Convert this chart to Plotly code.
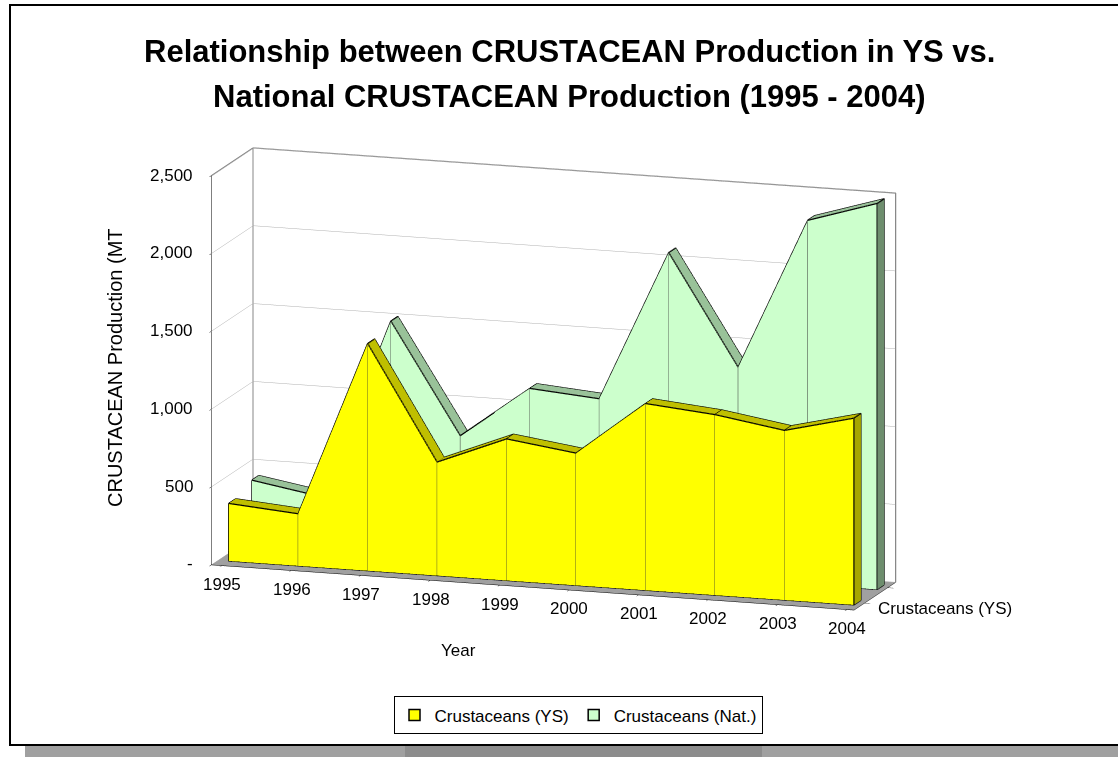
import math
import plotly.graph_objects as go

# ---------------- data ----------------
years = [1995, 1996, 1997, 1998, 1999, 2000, 2001, 2002, 2003, 2004]
ys_values = [370, 335, 1460, 730, 910, 850, 1200, 1160, 1090, 1200]
nat_values = [420, 345, 1505, 800, 1135, 1100, 2070, 1365, 2340, 2480]
series_names = ["Crustaceans (YS)", "Crustaceans (Nat.)"]
series_positions = [0, 1]
value_ticks = [0, 500, 1000, 1500, 2000, 2500]
value_tick_labels = ["-", "500", "1,000", "1,500", "2,000", "2,500"]
year_labels = [str(y) for y in years]

FONT = "Arial, Liberation Sans, sans-serif"
HALF = 0.15
XR = [1994.85, 2004.1]
YR = [-0.45, 1.35]
ZR = [0, 2500]
EPS = 0.02


def slab(xs, vs, yc, half, front, top, side, bottom):
    y0, y1 = yc - half, yc + half
    X, Y, Z = [], [], []
    for x, v in zip(xs, vs):
        X += [x, x, x, x]
        Y += [y0, y0, y1, y1]
        Z += [0, v, 0, v]
    I, J, K, C = [], [], [], []

    def tri(a, b, c, col):
        I.append(a); J.append(b); K.append(c); C.append(col)

    n = len(xs)
    for i in range(n - 1):
        fb, ft, bb, bt = 4 * i, 4 * i + 1, 4 * i + 2, 4 * i + 3
        fb2, ft2, bb2, bt2 = fb + 4, ft + 4, bb + 4, bt + 4
        tri(fb, ft, ft2, front); tri(fb, ft2, fb2, front)
        tri(bb, bt, bt2, front); tri(bb, bt2, bb2, front)
        tri(ft, ft2, bt2, top); tri(ft, bt2, bt, top)
        tri(fb, fb2, bb2, bottom); tri(fb, bb2, bb, bottom)
    for i in (0, n - 1):
        fb, ft, bb, bt = 4 * i, 4 * i + 1, 4 * i + 2, 4 * i + 3
        tri(fb, ft, bt, side); tri(fb, bt, bb, side)
    mesh = go.Mesh3d(x=X, y=Y, z=Z, i=I, j=J, k=K, facecolor=C,
                     flatshading=True,
                     lighting=dict(ambient=1, diffuse=0, specular=0,
                                   roughness=1, fresnel=0),
                     hoverinfo="skip", showlegend=False)

    ex, ey, ez = [], [], []

    def seg(pts):
        for p in pts:
            ex.append(p[0]); ey.append(p[1]); ez.append(p[2])
        ex.append(None); ey.append(None); ez.append(None)

    seg([(x, y0, v) for x, v in zip(xs, vs)] +
        [(xs[-1], y0, 0), (xs[0], y0, 0), (xs[0], y0, vs[0])])
    seg([(x, y1, v) for x, v in zip(xs, vs)] + [(xs[-1], y1, 0)])
    for x, v in zip(xs, vs):
        seg([(x, y0, v), (x, y1, v)])
    seg([(xs[-1], y0, 0), (xs[-1], y1, 0)])
    edges = go.Scatter3d(x=ex, y=ey, z=ez, mode="lines",
                         line=dict(color="black", width=2.5),
                         hoverinfo="skip", showlegend=False)
    tx, ty, tz = [], [], []
    for x, v in zip(xs[1:-1], vs[1:-1]):
        tx += [x, x, None]; ty += [y0, y0, None]; tz += [0, v, None]
    thin = go.Scatter3d(x=tx, y=ty, z=tz, mode="lines",
                        line=dict(color="#333333", width=1.5),
                        hoverinfo="skip", showlegend=False)
    return [mesh, edges, thin]


fig = go.Figure()
for t in slab(years, nat_values, series_positions[1], HALF,
              "#CCFFCC", "#99C299", "#6E8E6E", "#888888"):
    fig.add_trace(t)
for t in slab(years, ys_values, series_positions[0], HALF,
              "#FFFF00", "#BFBF00", "#A6A600", "#888888"):
    fig.add_trace(t)

# wall frame (gray edges of back and side walls)
fig.add_trace(go.Scatter3d(
    x=[XR[0], XR[0], XR[1], XR[1], None, XR[0], XR[0]],
    y=[YR[1], YR[1], YR[1], YR[1], None, YR[0], YR[1]],
    z=[ZR[0], ZR[1], ZR[1], ZR[0], None, ZR[1], ZR[1]],
    mode="lines", line=dict(color="#888888", width=2.5),
    hoverinfo="skip", showlegend=False))

# legend entries
fig.add_trace(go.Scatter(x=[None], y=[None], mode="markers", name=series_names[0],
                         marker=dict(symbol="square", size=11, color="#FFFF00",
                                     line=dict(color="black", width=1.5))))
fig.add_trace(go.Scatter(x=[None], y=[None], mode="markers", name=series_names[1],
                         marker=dict(symbol="square", size=11, color="#CCFFCC",
                                     line=dict(color="black", width=1.5))))

# camera direction (azimuth / elevation); orthographic zoom via aspect ratio
az, el, k = math.radians(18), math.radians(12.5), 3.0
eye = dict(x=k * math.sin(az) * math.cos(el),
           y=-k * math.cos(az) * math.cos(el),
           z=k * math.sin(el))
zoom = 2.23

# tick labels as scene annotations (horizontal text at data positions)
scene_ann = []
for yv, lab in zip(years, year_labels):
    scene_ann.append(dict(x=yv, y=YR[0] + EPS, z=ZR[0] + 1, text=lab,
                          showarrow=False, yshift=-20,
                          font=dict(size=17, family=FONT)))
for v, lab in zip(value_ticks, value_tick_labels):
    zv = min(max(v, ZR[0] + 1), ZR[1] - 1)
    scene_ann.append(dict(x=XR[0] + EPS, y=YR[0] + EPS, z=zv, text=lab,
                          showarrow=False, xanchor="right", xshift=-18,
                          font=dict(size=17, family=FONT)))
scene_ann.append(dict(x=XR[1], y=series_positions[0], z=0,
                      text=series_names[0], showarrow=False, xanchor="left",
                      xshift=12, yshift=-6, font=dict(size=17, family=FONT)))

axis_common = dict(title=dict(text=""), zeroline=False, showspikes=False,
                   showticklabels=False, showline=True,
                   linecolor="black", ticks="outside", tickcolor="black",
                   ticklen=6)

fig.update_layout(
    width=1118, height=757,
    margin=dict(l=0, r=0, t=0, b=0),
    paper_bgcolor="white",
    plot_bgcolor="rgba(0,0,0,0)",
    font=dict(family=FONT, color="black", size=16),
    xaxis=dict(visible=False, domain=[0, 0.01]),
    yaxis=dict(visible=False, domain=[0, 0.01]),
    showlegend=True,
    legend=dict(orientation="h", x=0.517, xanchor="center", y=0.055,
                yanchor="middle", bordercolor="black", borderwidth=1,
                bgcolor="white", font=dict(size=17, family=FONT),
                itemwidth=30),
    scene=dict(
        domain=dict(x=[0.05, 0.94], y=[0.1, 0.9]),
        aspectmode="manual",
        aspectratio=dict(x=1 * zoom, y=0.2 * zoom, z=0.59 * zoom),
        camera=dict(eye=eye, center=dict(x=0, y=0, z=0),
                    projection=dict(type="orthographic")),
        bgcolor="rgba(0,0,0,0)",
        xaxis=dict(range=XR, tickvals=years, showgrid=False,
                   showbackground=True, backgroundcolor="white", **axis_common),
        yaxis=dict(range=YR, tickvals=series_positions, showgrid=False,
                   showbackground=True, backgroundcolor="white", **axis_common),
        zaxis=dict(range=ZR, tickvals=value_ticks,
                   showgrid=True, gridcolor="#B0B0B0", gridwidth=1,
                   showbackground=True, backgroundcolor="#A0A0A0",
                   **axis_common),
        annotations=scene_ann,
    ),
    annotations=[
        dict(text="<b>Relationship between CRUSTACEAN Production in YS vs.</b>",
             x=0.509, y=1 - 52 / 757, xref="paper", yref="paper",
             xanchor="center", yanchor="middle",
             showarrow=False, font=dict(size=31, family=FONT)),
        dict(text="<b>National CRUSTACEAN Production (1995 - 2004)</b>",
             x=0.509, y=1 - 96 / 757, xref="paper", yref="paper",
             xanchor="center", yanchor="middle",
             showarrow=False, font=dict(size=31, family=FONT)),
        dict(text="CRUSTACEAN Production (MT", textangle=-90,
             x=115 / 1118, y=1 - 368 / 757, xref="paper", yref="paper",
             xanchor="center", yanchor="middle",
             showarrow=False, font=dict(size=20, family=FONT)),
        dict(text="Year", x=458 / 1118, y=1 - 650 / 757, xref="paper",
             yref="paper", xanchor="center", yanchor="middle",
             showarrow=False, font=dict(size=17, family=FONT)),
    ],
    shapes=[
        dict(type="rect", xref="paper", yref="paper",
             x0=25 / 1118, x1=1.0, y0=0, y1=1 - 746 / 757,
             fillcolor="#A0A0A0", line=dict(width=0), layer="below"),
        dict(type="rect", xref="paper", yref="paper",
             x0=405 / 1118, x1=762 / 1118, y0=0, y1=1 - 746 / 757,
             fillcolor="#8C8C8C", line=dict(width=0), layer="below"),
        dict(type="rect", xref="paper", yref="paper",
             x0=10 / 1118, x1=1.01, y0=1 - 745 / 757, y1=1 - 5 / 757,
             fillcolor="rgba(0,0,0,0)", line=dict(color="black", width=2)),
    ],
)

fig.write_html("out.html", config={"displayModeBar": False},
               post_script="document.body.style.margin='0px';")
